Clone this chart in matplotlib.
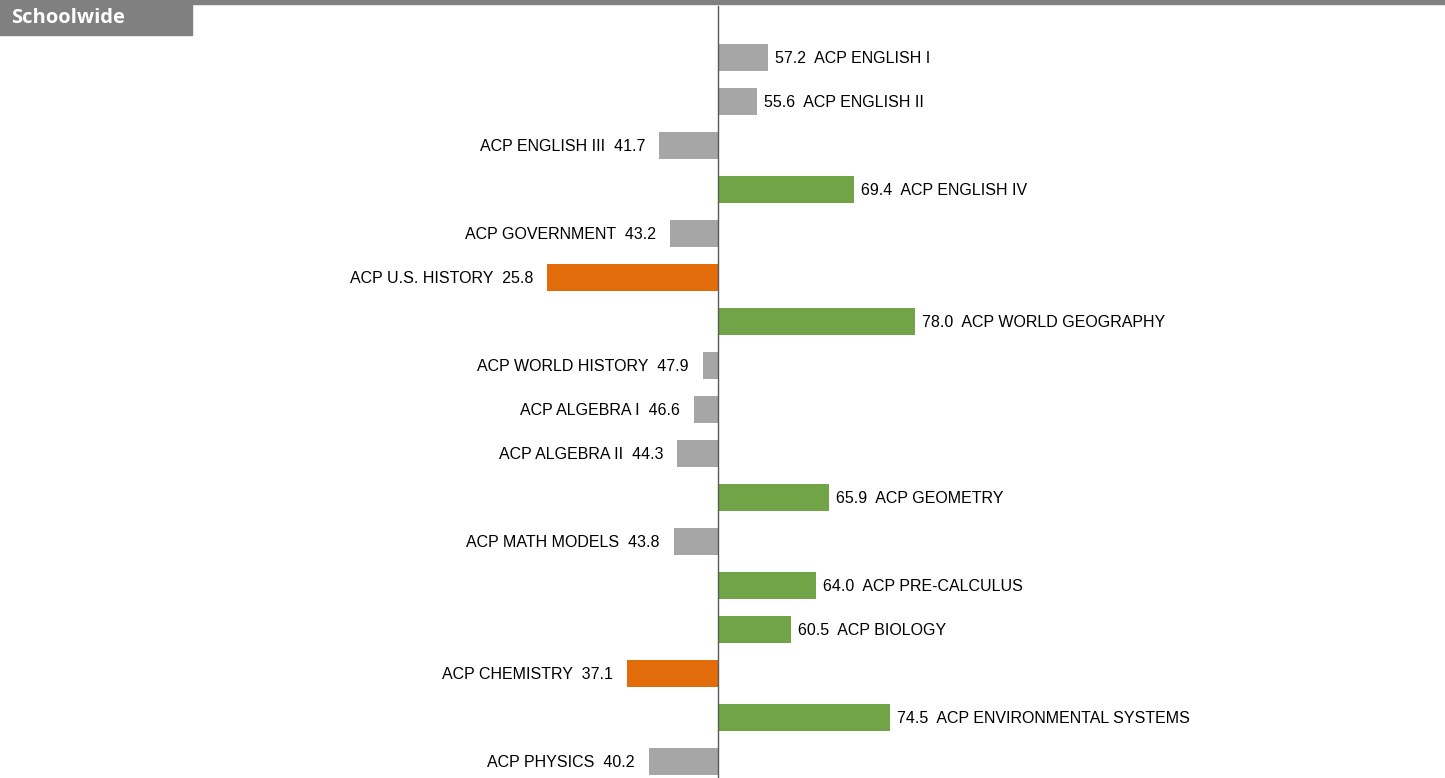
import numpy as np
import matplotlib
matplotlib.use("Agg")
import matplotlib.pyplot as plt
from matplotlib.patches import Rectangle

# --------------------------------------------------------------------------- #
#  Data
# --------------------------------------------------------------------------- #
courses = ["ACP ENGLISH I", "ACP ENGLISH II", "ACP ENGLISH III", "ACP ENGLISH IV",
           "ACP GOVERNMENT", "ACP U.S. HISTORY", "ACP WORLD GEOGRAPHY",
           "ACP WORLD HISTORY", "ACP ALGEBRA I", "ACP ALGEBRA II", "ACP GEOMETRY",
           "ACP MATH MODELS", "ACP PRE-CALCULUS", "ACP BIOLOGY", "ACP CHEMISTRY",
           "ACP ENVIRONMENTAL SYSTEMS", "ACP PHYSICS"]
scores = [57.2, 55.6, 41.7, 69.4, 43.2, 25.8, 78.0, 47.9, 46.6, 44.3, 65.9,
          43.8, 64.0, 60.5, 37.1, 74.5, 40.2]
baseline = 50.0
title = "Schoolwide"

GRAY, GREEN, ORANGE = "#A6A6A6", "#70A446", "#E36C0A"


def bar_color(v):
    if v >= 60:
        return GREEN
    if v < 40:
        return ORANGE
    return GRAY


plt.rcParams["font.family"] = ["Liberation Sans", "DejaVu Sans"]

W, H, DPI = 1445, 778, 100
fig = plt.figure(figsize=(W / DPI, H / DPI), dpi=DPI)
ax = fig.add_axes([0, 0, 1, 1])

# pixel geometry of the reference: baseline at x=717.5, ~7.04 px per point,
# rows 44 px apart starting at y=57
px_per_unit = 7.04
x0 = 717.5
ax.set_xlim(-x0 / px_per_unit, (W - x0) / px_per_unit)
ax.set_ylim(len(scores) - 1 + (H - 57.5 - 44 * (len(scores) - 1)) / 44, -57.5 / 44)
ax.axis("off")

y = np.arange(len(scores))
delta = np.array(scores) - baseline
ax.barh(y, delta, height=0.6, color=[bar_color(v) for v in scores], zorder=2)

gap_pos = 7 / px_per_unit
gap_neg = 14 / px_per_unit
for yi, d, v, name in zip(y, delta, scores, courses):
    if d >= 0:
        ax.text(d + gap_pos, yi + 0.03, f"{v:.1f}  {name}", ha="left", va="center",
                fontsize=11.5, color="#000000")
    else:
        ax.text(d - gap_neg, yi + 0.03, f"{name}  {v:.1f}", ha="right", va="center",
                fontsize=11.5, color="#000000")

# baseline rule
ax.plot([0, 0], [ax.get_ylim()[0], -52 / 44], color="#595959", lw=1.0, zorder=3)

# header strip and label box
fig.patches.append(Rectangle((0, 1 - 4 / H), 1, 4 / H, transform=fig.transFigure,
                             color="#808080", zorder=5))
fig.patches.append(Rectangle((0, 1 - 35 / H), 192 / W, 35 / H,
                             transform=fig.transFigure, color="#808080", zorder=5))
fig.text(11 / W, 1 - 18 / H, title, ha="left", va="center", fontsize=14.5,
         fontweight="bold", color="white", family=["Open Sans", "DejaVu Sans"],
         zorder=6)

fig.savefig("out.png", dpi=DPI)
